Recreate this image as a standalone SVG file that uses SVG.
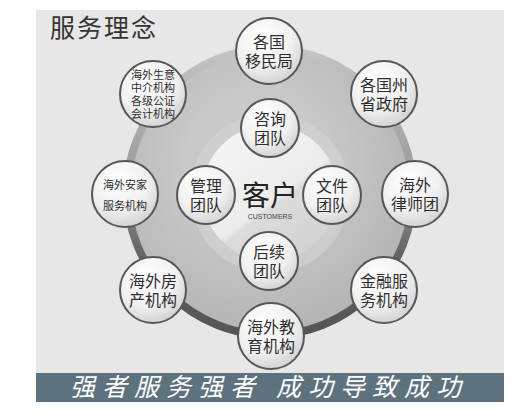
<svg xmlns="http://www.w3.org/2000/svg" width="532" height="420" viewBox="0 0 532 420">
<defs>
<linearGradient id="ringStroke" x1="0" y1="0" x2="0" y2="1">
<stop offset="0" stop-color="#c4c4c4"/>
<stop offset="0.45" stop-color="#9a9a9a"/>
<stop offset="0.75" stop-color="#5e5e5e"/>
<stop offset="1" stop-color="#555"/>
</linearGradient>
<radialGradient id="diskFill" cx="0.45" cy="0.4" r="0.6">
<stop offset="0.4" stop-color="#c9c9c9"/>
<stop offset="1" stop-color="#b4b4b4"/>
</radialGradient>
<linearGradient id="innerFill" x1="0.2" y1="0.1" x2="0.8" y2="0.9">
<stop offset="0" stop-color="#f4f4f4"/>
<stop offset="0.55" stop-color="#ececec"/>
<stop offset="0.6" stop-color="#dcdcdc"/>
<stop offset="1" stop-color="#d2d2d2"/>
</linearGradient>
<radialGradient id="nodeFill" cx="0.4" cy="0.3" r="0.75">
<stop offset="0" stop-color="#ffffff"/>
<stop offset="0.6" stop-color="#f0f0f0"/>
<stop offset="1" stop-color="#cfcfcf"/>
</radialGradient>
<style>
.node{fill:url(#nodeFill);stroke:#575757;stroke-width:2}
.t{font-family:"Liberation Sans","Noto Sans CJK SC",sans-serif;fill:#2e2e2e;text-anchor:middle}
.big{font-size:16px}
.sm{font-size:11px}
</style>
</defs>
<rect x="0" y="0" width="532" height="420" fill="#ffffff"/>
<rect x="36" y="10" width="468" height="392" fill="#e7e7e7"/>
<text x="50" y="37" font-family="Liberation Sans,Noto Sans CJK SC,sans-serif" font-size="25" fill="#333" letter-spacing="2">服务理念</text>

<g id="disk">
<circle cx="270" cy="192" r="143" fill="url(#diskFill)" stroke="url(#ringStroke)" stroke-width="8"/>
<circle cx="270" cy="193" r="80" fill="#d4d4d4" opacity="0.6"/>
<circle cx="270" cy="193" r="68" fill="url(#innerFill)"/>
</g>

<g id="connectors"></g>

<g id="center">
<text class="t" x="270" y="206" font-size="28" style="fill:#222">客户</text>
<text x="270" y="219" font-family="Liberation Sans,Arial,sans-serif" font-size="7" fill="#444" text-anchor="middle">CUSTOMERS</text>
</g>

<g id="n-yimin"><circle class="node" cx="269" cy="51" r="33"/>
<text class="t big" x="269" y="48">各国</text><text class="t big" x="269" y="67">移民局</text></g>

<g id="n-zhengfu"><circle class="node" cx="384" cy="94" r="33"/>
<text class="t big" x="384" y="91">各国州</text><text class="t big" x="384" y="110">省政府</text></g>

<g id="n-lvshi"><circle class="node" cx="415" cy="194" r="33"/>
<text class="t big" x="415" y="191">海外</text><text class="t big" x="415" y="210">律师团</text></g>

<g id="n-jinrong"><circle class="node" cx="384" cy="290" r="33"/>
<text class="t big" x="384" y="287">金融服</text><text class="t big" x="384" y="306">务机构</text></g>

<g id="n-jiaoyu"><circle class="node" cx="271" cy="336" r="33"/>
<text class="t big" x="271" y="333">海外教</text><text class="t big" x="271" y="352">育机构</text></g>

<g id="n-fangchan"><circle class="node" cx="153" cy="290" r="33"/>
<text class="t big" x="153" y="287">海外房</text><text class="t big" x="153" y="306">产机构</text></g>

<g id="n-anjia"><circle class="node" cx="125" cy="194" r="33"/>
<text class="t sm" x="125" y="189">海外安家</text><text class="t sm" x="125" y="210">服务机构</text></g>

<g id="n-shengyi"><circle class="node" cx="153" cy="94" r="33"/>
<text class="t sm" x="153" y="79">海外生意</text><text class="t sm" x="153" y="92">中介机构</text>
<text class="t sm" x="153" y="105">各级公证</text><text class="t sm" x="153" y="118">会计机构</text></g>

<g id="n-zixun"><circle class="node" cx="270" cy="128" r="29"/>
<text class="t big" x="270" y="125">咨询</text><text class="t big" x="270" y="144">团队</text></g>

<g id="n-guanli"><circle class="node" cx="206" cy="195" r="29"/>
<text class="t big" x="206" y="192">管理</text><text class="t big" x="206" y="211">团队</text></g>

<g id="n-wenjian"><circle class="node" cx="332" cy="195" r="29"/>
<text class="t big" x="332" y="192">文件</text><text class="t big" x="332" y="211">团队</text></g>

<g id="n-houxu"><circle class="node" cx="269" cy="261" r="29"/>
<text class="t big" x="269" y="258">后续</text><text class="t big" x="269" y="277">团队</text></g>

<g id="banner">
<rect x="36" y="373" width="468" height="29" fill="#5e727d"/>
<text x="70" y="396" font-family="Liberation Sans,Noto Sans CJK SC,sans-serif" font-size="25" font-style="italic" fill="#ffffff" letter-spacing="7">强者服务强者 成功导致成功</text>
</g>
</svg>
